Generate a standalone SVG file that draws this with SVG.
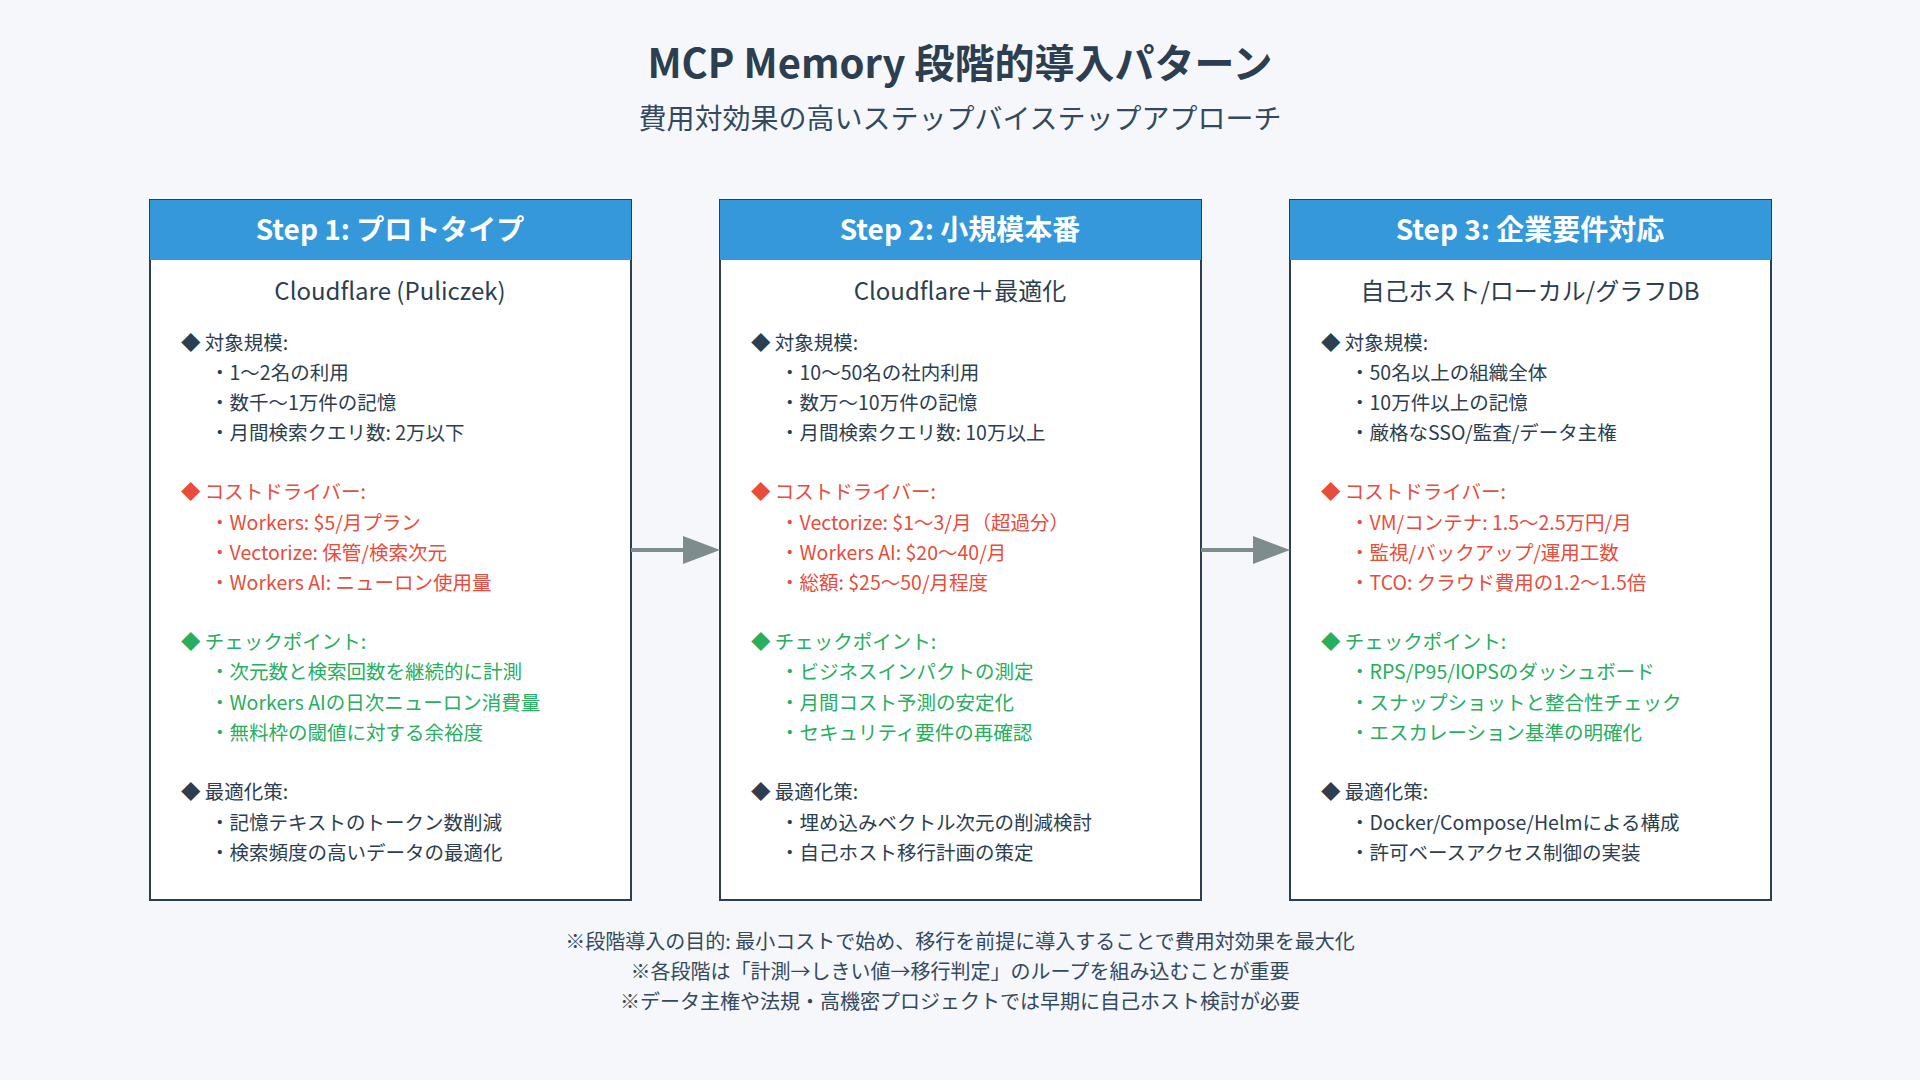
<svg xmlns="http://www.w3.org/2000/svg" width="1920" height="1080" viewBox="0 0 1920 1080">
<defs>
<style>
text{font-family:"Noto Sans CJK JP","Noto Sans",sans-serif;fill:#2c3e50}
.t{font-size:40px;font-weight:bold;text-anchor:middle}
.st{font-size:28px;text-anchor:middle;fill:#34495e}
.box{fill:#fff;stroke:#2c3e50;stroke-width:2}
.hd{fill:#3498db}
.ht{font-size:28px;font-weight:bold;fill:#fff;text-anchor:middle}
.sub{font-size:24px;text-anchor:middle}
.l{font-size:19.5px}
.r{fill:#e74c3c}
.g{fill:#27ae60}
.f{font-size:20px;text-anchor:middle;fill:#34495e}
.ar{stroke:#7f8c8d;stroke-width:4;fill:none}
</style>
</defs>
<rect width="1920" height="1080" fill="#f5f7fa"/>
<text class="t" x="960" y="78">MCP Memory 段階的導入パターン</text>
<text class="st" x="960" y="129">費用対効果の高いステップバイステップアプローチ</text>

<g id="step1">
<rect class="box" x="150" y="200" width="481" height="700"/>
<rect class="hd" x="150" y="200" width="481" height="60"/>
<text class="ht" x="390" y="240">Step 1: プロトタイプ</text>
<text class="sub" x="390" y="300">Cloudflare (Puliczek)</text>
<text class="l" x="181" y="350">◆ 対象規模:</text>
<text class="l" x="210" y="380">・1〜2名の利用</text>
<text class="l" x="210" y="410">・数千〜1万件の記憶</text>
<text class="l" x="210" y="440">・月間検索クエリ数: 2万以下</text>
<text class="l r" x="181" y="499">◆ コストドライバー:</text>
<text class="l r" x="210" y="530">・Workers: $5/月プラン</text>
<text class="l r" x="210" y="560">・Vectorize: 保管/検索次元</text>
<text class="l r" x="210" y="590">・Workers AI: ニューロン使用量</text>
<text class="l g" x="181" y="649">◆ チェックポイント:</text>
<text class="l g" x="210" y="679">・次元数と検索回数を継続的に計測</text>
<text class="l g" x="210" y="710">・Workers AIの日次ニューロン消費量</text>
<text class="l g" x="210" y="740">・無料枠の閾値に対する余裕度</text>
<text class="l" x="181" y="799">◆ 最適化策:</text>
<text class="l" x="210" y="830">・記憶テキストのトークン数削減</text>
<text class="l" x="210" y="860">・検索頻度の高いデータの最適化</text>
</g>

<g id="step2">
<rect class="box" x="720" y="200" width="481" height="700"/>
<rect class="hd" x="720" y="200" width="481" height="60"/>
<text class="ht" x="960" y="240">Step 2: 小規模本番</text>
<text class="sub" x="960" y="300">Cloudflare＋最適化</text>
<text class="l" x="751" y="350">◆ 対象規模:</text>
<text class="l" x="780" y="380">・10〜50名の社内利用</text>
<text class="l" x="780" y="410">・数万〜10万件の記憶</text>
<text class="l" x="780" y="440">・月間検索クエリ数: 10万以上</text>
<text class="l r" x="751" y="499">◆ コストドライバー:</text>
<text class="l r" x="780" y="530">・Vectorize: $1〜3/月（超過分）</text>
<text class="l r" x="780" y="560">・Workers AI: $20〜40/月</text>
<text class="l r" x="780" y="590">・総額: $25〜50/月程度</text>
<text class="l g" x="751" y="649">◆ チェックポイント:</text>
<text class="l g" x="780" y="679">・ビジネスインパクトの測定</text>
<text class="l g" x="780" y="710">・月間コスト予測の安定化</text>
<text class="l g" x="780" y="740">・セキュリティ要件の再確認</text>
<text class="l" x="751" y="799">◆ 最適化策:</text>
<text class="l" x="780" y="830">・埋め込みベクトル次元の削減検討</text>
<text class="l" x="780" y="860">・自己ホスト移行計画の策定</text>
</g>

<g id="step3">
<rect class="box" x="1290" y="200" width="481" height="700"/>
<rect class="hd" x="1290" y="200" width="481" height="60"/>
<text class="ht" x="1530" y="240">Step 3: 企業要件対応</text>
<text class="sub" x="1530" y="300">自己ホスト/ローカル/グラフDB</text>
<text class="l" x="1321" y="350">◆ 対象規模:</text>
<text class="l" x="1350" y="380">・50名以上の組織全体</text>
<text class="l" x="1350" y="410">・10万件以上の記憶</text>
<text class="l" x="1350" y="440">・厳格なSSO/監査/データ主権</text>
<text class="l r" x="1321" y="499">◆ コストドライバー:</text>
<text class="l r" x="1350" y="530">・VM/コンテナ: 1.5〜2.5万円/月</text>
<text class="l r" x="1350" y="560">・監視/バックアップ/運用工数</text>
<text class="l r" x="1350" y="590">・TCO: クラウド費用の1.2〜1.5倍</text>
<text class="l g" x="1321" y="649">◆ チェックポイント:</text>
<text class="l g" x="1350" y="679">・RPS/P95/IOPSのダッシュボード</text>
<text class="l g" x="1350" y="710">・スナップショットと整合性チェック</text>
<text class="l g" x="1350" y="740">・エスカレーション基準の明確化</text>
<text class="l" x="1321" y="799">◆ 最適化策:</text>
<text class="l" x="1350" y="830">・Docker/Compose/Helmによる構成</text>
<text class="l" x="1350" y="860">・許可ベースアクセス制御の実装</text>
</g>

<g id="connectors">
<line class="ar" x1="631" y1="550" x2="685" y2="550"/>
<path d="M683,536 L720,550 L683,564 z" fill="#7f8c8d"/>
<line class="ar" x1="1201" y1="550" x2="1255" y2="550"/>
<path d="M1253,536 L1290,550 L1253,564 z" fill="#7f8c8d"/>
</g>

<text class="f" x="960" y="949">※段階導入の目的: 最小コストで始め、移行を前提に導入することで費用対効果を最大化</text>
<text class="f" x="960" y="979">※各段階は「計測→しきい値→移行判定」のループを組み込むことが重要</text>
<text class="f" x="960" y="1009">※データ主権や法規・高機密プロジェクトでは早期に自己ホスト検討が必要</text>
</svg>
